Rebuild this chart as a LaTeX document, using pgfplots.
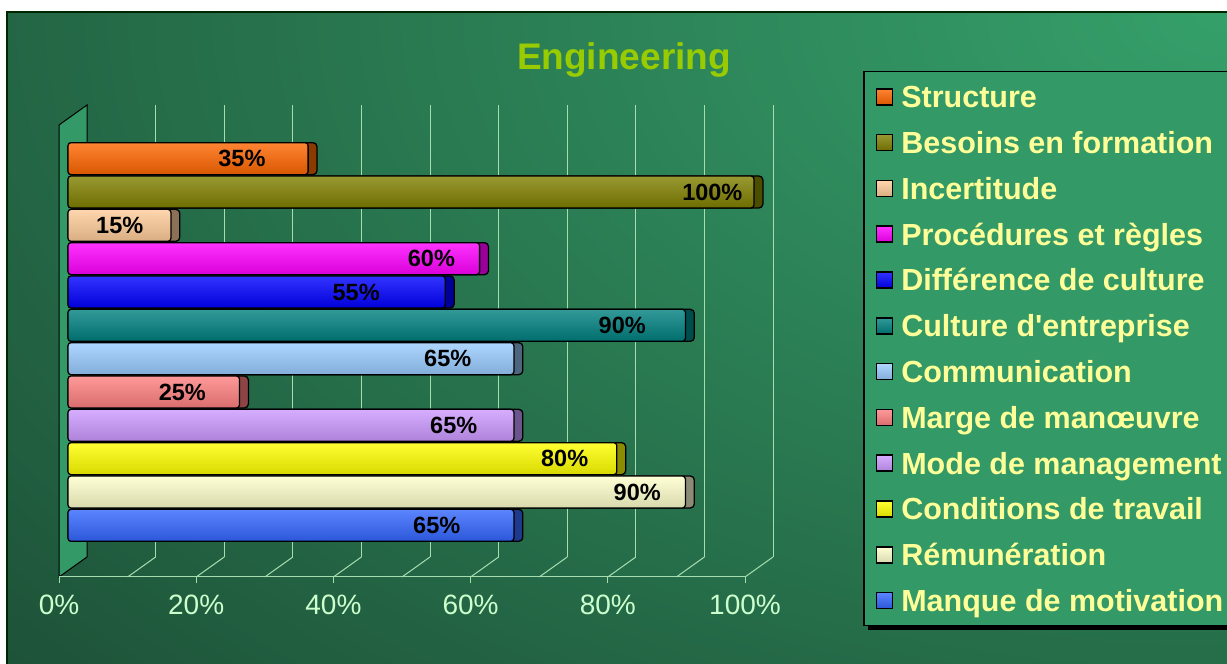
\documentclass[border=0pt]{standalone}
\usepackage{fontspec}
\setmainfont{Liberation Sans}
\usepackage{pgfplots}
\pgfplotsset{compat=1.18}
\definecolor{bgdark}{HTML}{1B4A33}
\definecolor{bglight}{HTML}{35A06A}
\definecolor{gridcol}{HTML}{A6DDAE}
\definecolor{tickcol}{HTML}{CCFFCC}
\definecolor{titlecol}{HTML}{99CC00}
\definecolor{wallcol}{HTML}{339966}
\definecolor{legendfill}{HTML}{339966}
\definecolor{legendtext}{HTML}{FFFF99}
% bar colours and caps
\definecolor{cA}{HTML}{FF6600}\definecolor{kA}{HTML}{8B3A00}
\definecolor{cB}{HTML}{808000}\definecolor{kB}{HTML}{4D4D00}
\definecolor{cC}{HTML}{FFCC99}\definecolor{kC}{HTML}{8C7058}
\definecolor{cD}{HTML}{FF00FF}\definecolor{kD}{HTML}{990099}
\definecolor{cE}{HTML}{0000FF}\definecolor{kE}{HTML}{000099}
\definecolor{cF}{HTML}{008080}\definecolor{kF}{HTML}{004D4D}
\definecolor{cG}{HTML}{99CCFF}\definecolor{kG}{HTML}{4D6680}
\definecolor{cH}{HTML}{FF8080}\definecolor{kH}{HTML}{8C4444}
\definecolor{cI}{HTML}{CC99FF}\definecolor{kI}{HTML}{6B558C}
\definecolor{cJ}{HTML}{FFFF00}\definecolor{kJ}{HTML}{8C8C00}
\definecolor{cK}{HTML}{FFFFCC}\definecolor{kK}{HTML}{8C8C76}
\definecolor{cL}{HTML}{3366FF}\definecolor{kL}{HTML}{1F3A8C}
\pgfplotsset{
  barbase/.style={xbar, bar width=32pt, draw=black, line width=1.3pt},
  mainbar/.style={barbase, top color=#1!80!white, middle color=#1, bottom color=#1!85!black, rounded corners=3pt},
  capbar/.style={barbase, forget plot, fill=#1, rounded corners=4pt},
  lab/.style={nodes near coords={\pgfmathprintnumber{\pgfplotspointmeta}\%},
     every node near coord/.append style={anchor=east, inner sep=0pt, xshift=-#1pt, text=black,
       font=\fontsize{23.5}{26}\selectfont\bfseries}},
}
\begin{document}
\begin{tikzpicture}[x=1pt,y=1pt]
\useasboundingbox (0,0) rectangle (1227,664);
\clip (0,0) rectangle (1227,664);
\fill[white] (0,0) rectangle (1227,664);
\begin{scope}
\clip (7,-10) rectangle (1240,652);
\shade[inner color=bglight, outer color=bgdark] (1227,652) ellipse (1800 and 1100);
\end{scope}
\draw[line width=1.5, black!85!green] (7,-10) rectangle (1240,652);
\node[anchor=base, text=titlecol, font=\fontsize{37}{44}\selectfont\bfseries] at (624,594) {Engineering};

% back wall grid
\begin{axis}[at={(87pt,107pt)}, anchor=south west, scale only axis, width=686pt, height=452pt,
  xmin=0, xmax=100, ymin=0, ymax=1, xtick={10,20,...,100}, ytick=\empty, xticklabels={},
  xmajorgrids, major grid style={gridcol, line width=1pt}, axis line style={draw=none}, major tick length=0pt]
\addplot[draw=none] coordinates {(0,0)};
\end{axis}
\foreach \k in {1,...,10} \draw[gridcol, line width=1pt] ({59+68.6*\k},87) -- ++(28,20);
\filldraw[fill=wallcol, draw=black, line width=1pt] (59,87) -- (59,539) -- (87,559) -- (87,107) -- cycle;

% front axis with tick labels
\begin{axis}[at={(59pt,87pt)}, anchor=south west, scale only axis, width=686pt, height=452pt,
  xmin=0, xmax=100, ymin=0, ymax=1, axis x line*=bottom, axis y line=none,
  xtick={0,20,...,100}, xticklabel={\pgfmathprintnumber{\tick}\%},
  x axis line style={gridcol, line width=1pt, -}, tick style={gridcol, line width=1pt},
  tick align=outside, major tick length=6pt,
  xticklabel style={text=tickcol, font=\fontsize{28}{30}\selectfont, yshift=-8pt},
  /pgf/number format/assume math mode=true]
\addplot[draw=none] coordinates {(0,0)};
\end{axis}

% legend shadow
\fill[black] (868,34) rectangle (1240,588);

% bars
\begin{axis}[at={(68pt,102pt)}, anchor=south west, scale only axis, width=686pt, height=440pt,
  xmin=0, xmax=100, ymin=-0.1, ymax=13.1, hide axis, clip=false, point meta=x,
  /pgf/number format/assume math mode=true,
  legend cell align=left,
  legend style={at={(axis description cs:1.159,1.1159)}, anchor=north west, fill=legendfill,
    draw=black, line width=1.5pt, text=legendtext, font=\fontsize{30.5}{34}\selectfont\bfseries,
    row sep=15.8pt, inner xsep=12pt, inner ysep=10pt,
    nodes={text height=24pt, text depth=2pt, inner sep=2pt},
    /tikz/every odd column/.append style={column sep=6pt}},
  legend image code/.code={\draw[#1, line width=1.5pt, rounded corners=0pt] (0pt,-8pt) rectangle (16pt,8pt);}]
\addplot[capbar=kA] coordinates {(36.3,12)};
\addplot[mainbar=cA, lab=42] coordinates {(35,12)};
\addlegendentry{Structure}
\addplot[capbar=kB] coordinates {(101.3,11)};
\addplot[mainbar=cB, lab=11] coordinates {(100,11)};
\addlegendentry{Besoins en formation}
\addplot[capbar=kC] coordinates {(16.3,10)};
\addplot[mainbar=cC, lab=27] coordinates {(15,10)};
\addlegendentry{Incertitude}
\addplot[capbar=kD] coordinates {(61.3,9)};
\addplot[mainbar=cD, lab=24] coordinates {(60,9)};
\addlegendentry{Procédures et règles}
\addplot[capbar=kE] coordinates {(56.3,8)};
\addplot[mainbar=cE, lab=65] coordinates {(55,8)};
\addlegendentry{Différence de culture}
\addplot[capbar=kF] coordinates {(91.3,7)};
\addplot[mainbar=cF, lab=39] coordinates {(90,7)};
\addlegendentry{Culture d\textquotesingle entreprise}
\addplot[capbar=kG] coordinates {(66.3,6)};
\addplot[mainbar=cG, lab=42] coordinates {(65,6)};
\addlegendentry{Communication}
\addplot[capbar=kH] coordinates {(26.3,5)};
\addplot[mainbar=cH, lab=33] coordinates {(25,5)};
\addlegendentry{Marge de manœuvre}
\addplot[capbar=kI] coordinates {(66.3,4)};
\addplot[mainbar=cI, lab=36] coordinates {(65,4)};
\addlegendentry{Mode de management}
\addplot[capbar=kJ] coordinates {(81.3,3)};
\addplot[mainbar=cJ, lab=28] coordinates {(80,3)};
\addlegendentry{Conditions de travail}
\addplot[capbar=kK] coordinates {(91.3,2)};
\addplot[mainbar=cK, lab=24] coordinates {(90,2)};
\addlegendentry{Rémunération}
\addplot[capbar=kL] coordinates {(66.3,1)};
\addplot[mainbar=cL, lab=53] coordinates {(65,1)};
\addlegendentry{Manque de motivation}
\end{axis}
\end{tikzpicture}
\end{document}
